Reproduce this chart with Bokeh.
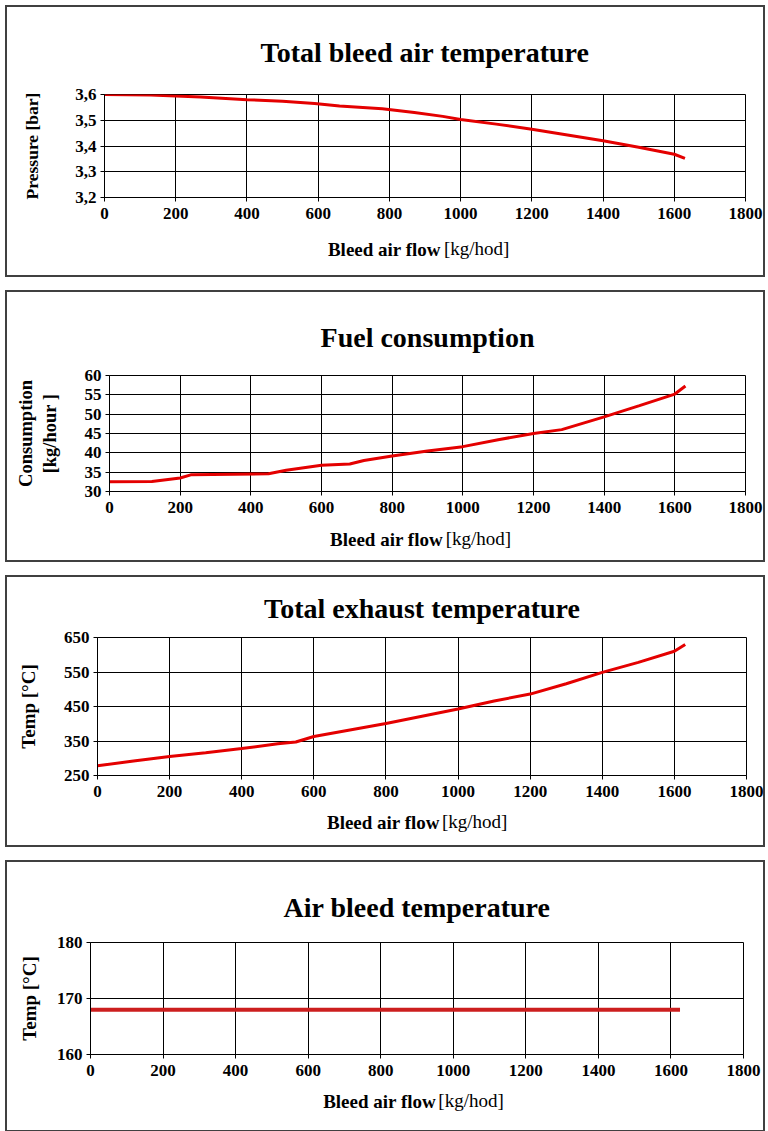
from bokeh.plotting import figure
from bokeh.models import Range1d, FixedTicker, CustomJSTickFormatter, LinearAxis
from bokeh.layouts import column
from bokeh.embed import file_html
from bokeh.resources import INLINE

# ---------------- data ----------------
x_ticks = [0, 200, 400, 600, 800, 1000, 1200, 1400, 1600, 1800]

p1_flow = [0, 130, 270, 400, 500, 590, 660, 780, 870, 950, 1000, 1100, 1200, 1300, 1400, 1500, 1600, 1630]
p1_pressure = [3.600, 3.598, 3.590, 3.580, 3.574, 3.565, 3.555, 3.545, 3.530, 3.515, 3.503, 3.485,
               3.465, 3.443, 3.420, 3.395, 3.368, 3.352]
p1_yticks = [3.2, 3.3, 3.4, 3.5, 3.6]

p2_flow = [0, 120, 200, 230, 450, 500, 600, 680, 720, 800, 900, 1000, 1100, 1200, 1280, 1400, 1500, 1600, 1630]
p2_fuel = [32.5, 32.6, 33.5, 34.3, 34.6, 35.5, 36.8, 37.1, 38.0, 39.2, 40.5, 41.6, 43.4, 45.0, 46.0,
           49.3, 52.2, 55.2, 57.3]
p2_yticks = [30, 35, 40, 45, 50, 55, 60]

p3_flow = [0, 100, 200, 300, 400, 500, 550, 600, 700, 800, 900, 1000, 1100, 1200, 1300, 1400, 1500, 1600, 1630]
p3_exhaust = [278, 292, 305, 316, 328, 342, 347, 363, 382, 401, 422, 443, 466, 486, 516, 549, 578, 610, 630]
p3_yticks = [250, 350, 450, 550, 650]

p4_flow = [0, 1625]
p4_bleed = [168, 168]
p4_yticks = [160, 170, 180]

titles = ["Total bleed air temperature", "Fuel consumption",
          "Total exhaust temperature", "Air bleed temperature"]
y_labels = ["Pressure [bar]", "Consumption\n[kg/hour ]", "Temp [\u00b0C]", "Temp [\u00b0C]"]
x_label_bold = "Bleed air flow"
x_label_rest = "[kg/hod]"

# ---------------- style ----------------
FONT = "Liberation Serif"
W, H = 756, 268


def text_axis(text, at, style, standoff):
    ax = LinearAxis(ticker=FixedTicker(ticks=[at]),
                    formatter=CustomJSTickFormatter(code="return %r" % text))
    ax.axis_line_color = None
    ax.major_tick_line_color = None
    ax.minor_tick_line_color = None
    ax.major_tick_out = 0
    ax.major_tick_in = 0
    ax.major_label_standoff = standoff
    ax.major_label_text_font = FONT
    ax.major_label_text_font_size = "19px"
    ax.major_label_text_font_style = style
    ax.major_label_text_color = "black"
    return ax


def panel(title, ylab, ylab_size, xs, ys, yticks, comma, borders, title_standoff, ylab_standoff,
          xlab_at, xlab_standoff, color="#e40000", lw=3):
    ml, mr, mt, mb = borders
    p = figure(width=W, height=H, output_backend="svg", toolbar_location=None,
               x_range=Range1d(0, 1800), y_range=Range1d(yticks[0], yticks[-1]),
               min_border_left=ml, min_border_right=mr, min_border_top=mt, min_border_bottom=mb,
               background_fill_color="white", border_fill_color="white")
    p.frame_align = False
    p.styles = {"box-shadow": "0 0 0 2px #404040"}
    p.outline_line_color = "black"
    p.outline_line_width = 1
    p.outline_line_alpha = 1

    p.title.text = title
    p.title.align = "center"
    p.title.text_font = FONT
    p.title.text_font_size = "28px"
    p.title.text_font_style = "bold"
    p.title.text_color = "black"
    p.title.standoff = title_standoff

    p.xaxis.ticker = FixedTicker(ticks=x_ticks)
    p.yaxis.ticker = FixedTicker(ticks=yticks)
    if comma:
        p.yaxis.formatter = CustomJSTickFormatter(code="return tick.toFixed(1).replace('.', ',')")
    for ax in (p.xaxis, p.yaxis):
        ax.axis_line_color = "black"
        ax.major_tick_line_color = "black"
        ax.major_tick_out = 4
        ax.major_tick_in = 0
        ax.minor_tick_line_color = None
        ax.major_label_text_font = FONT
        ax.major_label_text_font_style = "bold"
        ax.major_label_text_font_size = "17px"
        ax.major_label_text_color = "black"
    p.xaxis.major_label_standoff = 6
    p.yaxis.major_label_standoff = 4
    p.yaxis.axis_label = ylab
    p.yaxis.axis_label_text_font = FONT
    p.yaxis.axis_label_text_font_size = ylab_size
    p.yaxis.axis_label_text_font_style = "bold"
    p.yaxis.axis_label_text_color = "black"
    p.yaxis.axis_label_standoff = ylab_standoff
    for g in (p.xgrid, p.ygrid):
        g.grid_line_color = "black"
        g.grid_line_alpha = 1
        g.grid_line_width = 1

    p.line(xs, ys, line_color=color, line_width=lw)

    p.add_layout(text_axis(x_label_bold, xlab_at[0], "bold", xlab_standoff), "below")
    p.add_layout(text_axis(x_label_rest, xlab_at[1], "normal", -25), "below")
    return p


p1 = panel(titles[0], y_labels[0], "17.5px", p1_flow, p1_pressure, p1_yticks, True,
           (97, 18, 86, 78), 54, 30, (786, 1045), 17)
p2 = panel(titles[1], y_labels[1], "18.5px", p2_flow, p2_fuel, p2_yticks, False,
           (102, 18, 83, 69), 46, 22, (784, 1044), 13)
p3 = panel(titles[2], y_labels[2], "19px", p3_flow, p3_exhaust, p3_yticks, False,
           (90, 17, 60, 70), 27, 22, (793, 1046), 12)
p4 = panel(titles[3], y_labels[3], "19px", p4_flow, p4_bleed, p4_yticks, False,
           (83, 20, 80, 76), 40, 14, (797, 1049), 12, color="#cc1e1e", lw=4)

layout = column(p1, p2, p3, p4, spacing=17, margin=(7, 0, 0, 7))
open("out.html", "w").write(file_html(layout, INLINE))
